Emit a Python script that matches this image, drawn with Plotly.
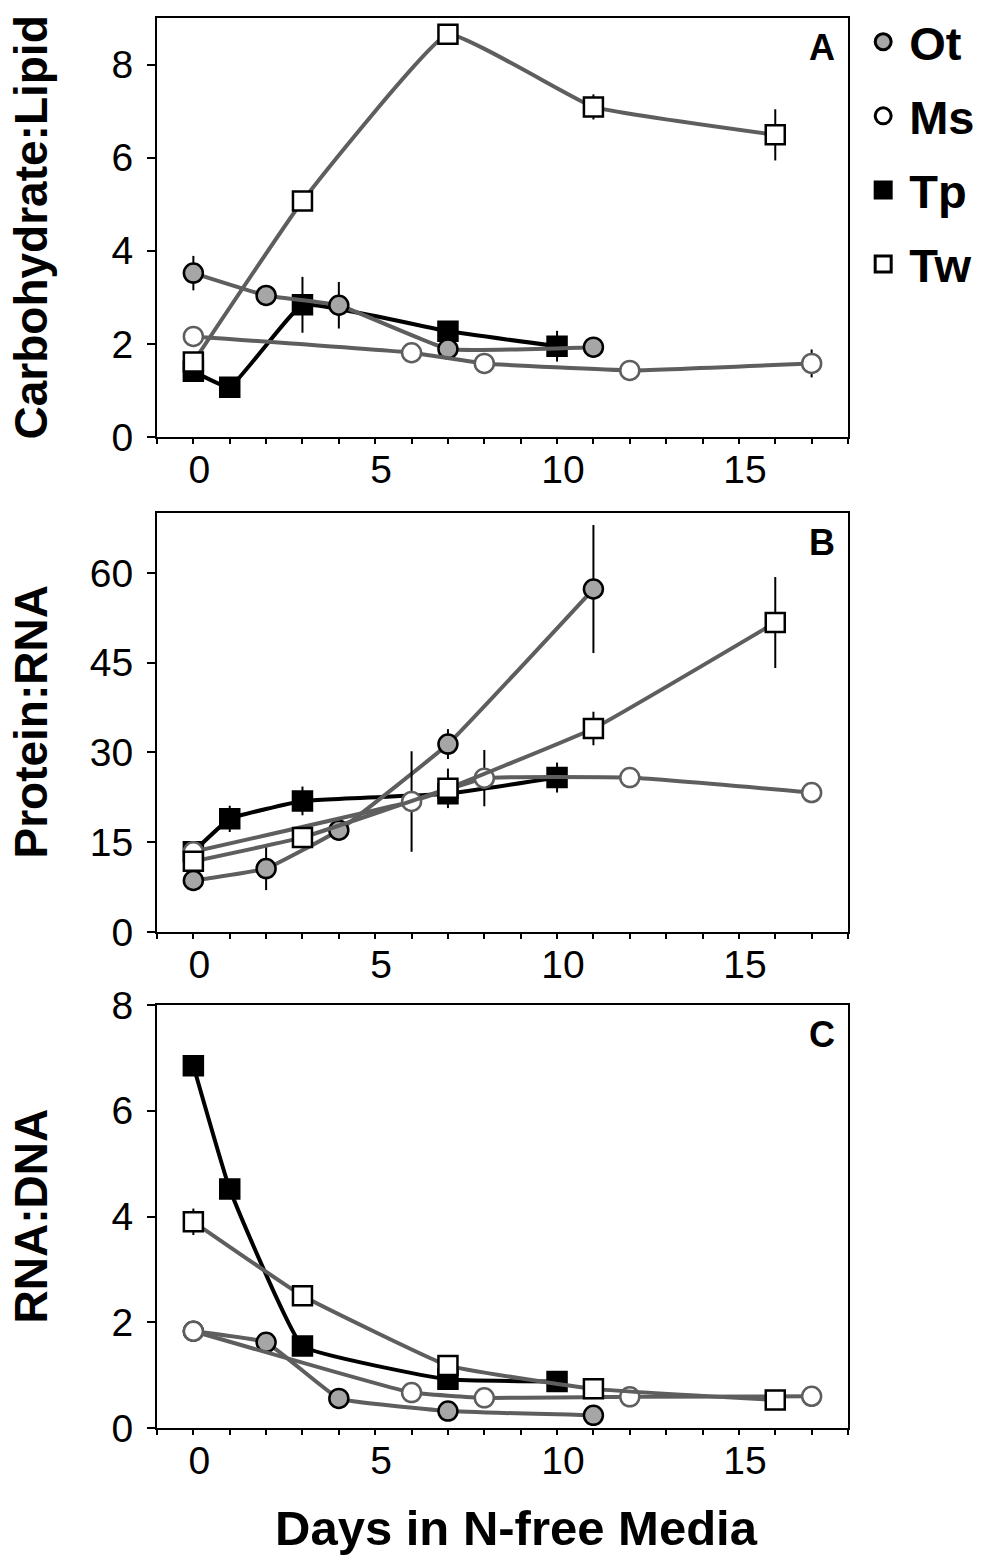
import plotly.graph_objects as go

# sampling days for each strain
days_ot = [0, 2, 4, 7, 11]
days_ms = [0, 6, 8, 12, 17]
days_tp = [0, 1, 3, 7, 10]
days_tw = [0, 3, 7, 11, 16]

# panel A: Carbohydrate:Lipid
ot_a = [3.52, 3.04, 2.83, 1.89, 1.93]
ot_a_err = [0.37, 0.1, 0.5, 0.12, 0.1]
ms_a = [2.16, 1.81, 1.58, 1.43, 1.58]
ms_a_err = [0.1, 0.05, 0.05, 0.05, 0.3]
tp_a = [1.41, 1.07, 2.84, 2.27, 1.95]
tp_a_err = [0.1, 0.05, 0.6, 0.12, 0.33]
tw_a = [1.61, 5.07, 8.65, 7.09, 6.49]
tw_a_err = [0.1, 0.12, 0.05, 0.27, 0.55]

# panel B: Protein:RNA
ot_b = [8.6, 10.6, 17.0, 31.4, 57.3]
ot_b_err = [1.0, 3.6, 1.0, 2.5, 10.7]
ms_b = [13.4, 21.8, 25.7, 25.8, 23.3]
ms_b_err = [0.8, 8.4, 4.7, 0.8, 0.8]
tp_b = [13.4, 18.9, 21.9, 23.1, 25.8]
tp_b_err = [0.8, 2.2, 2.4, 1.5, 2.5]
tw_b = [11.8, 15.8, 24.0, 34.0, 51.7]
tw_b_err = [1.0, 0.8, 3.3, 2.8, 7.6]

# panel C: RNA:DNA
ot_c = [1.83, 1.62, 0.56, 0.32, 0.24]
ot_c_err = [0.05, 0.08, 0.05, 0.04, 0.03]
ms_c = [1.83, 0.67, 0.57, 0.59, 0.60]
ms_c_err = [0.08, 0.05, 0.04, 0.04, 0.05]
tp_c = [6.85, 4.52, 1.55, 0.92, 0.88]
tp_c_err = [0.1, 0.08, 0.05, 0.05, 0.05]
tw_c = [3.90, 2.50, 1.18, 0.74, 0.53]
tw_c_err = [0.25, 0.05, 0.05, 0.05, 0.05]

names = ["Ot", "Ms", "Tp", "Tw"]
panel_titles = ["Carbohydrate:Lipid", "Protein:RNA", "RNA:DNA"]
panel_letters = ["A", "B", "C"]

GRAY = "#5e5e5e"
FONT = "Liberation Sans, Arial"
styles = {
    "Ot": dict(symbol="circle", fill="#a6a6a6", edge="black", line=GRAY),
    "Ms": dict(symbol="circle", fill="white", edge=GRAY, line=GRAY),
    "Tp": dict(symbol="square", fill="black", edge="black", line="black"),
    "Tw": dict(symbol="square", fill="white", edge="black", line=GRAY),
}

panels = [
    {"Ot": (days_ot, ot_a, ot_a_err), "Ms": (days_ms, ms_a, ms_a_err),
     "Tp": (days_tp, tp_a, tp_a_err), "Tw": (days_tw, tw_a, tw_a_err)},
    {"Ot": (days_ot, ot_b, ot_b_err), "Ms": (days_ms, ms_b, ms_b_err),
     "Tp": (days_tp, tp_b, tp_b_err), "Tw": (days_tw, tw_b, tw_b_err)},
    {"Ot": (days_ot, ot_c, ot_c_err), "Ms": (days_ms, ms_c, ms_c_err),
     "Tp": (days_tp, tp_c, tp_c_err), "Tw": (days_tw, tw_c, tw_c_err)},
]

fig = go.Figure()

# Tw is drawn last so its squares sit on top, as in the original
draw_order = ["Tp", "Ot", "Ms", "Tw"]
for i, panel in enumerate(panels):
    sfx = "" if i == 0 else str(i + 1)
    for name in draw_order:
        x, y, err = panel[name]
        st = styles[name]
        fig.add_trace(go.Scatter(
            x=x, y=y, mode="lines+markers",
            xaxis="x" + sfx, yaxis="y" + sfx,
            line=dict(color=st["line"], width=4, shape="spline", smoothing=0.3),
            marker=dict(symbol=st["symbol"], size=19, color=st["fill"],
                        line=dict(color=st["edge"], width=2.5)),
            error_y=dict(type="data", array=err, color="black", thickness=2, width=0),
            showlegend=False,
        ))

# legend-only entries
for name in names:
    st = styles[name]
    fig.add_trace(go.Scatter(
        x=[None], y=[None], mode="markers", name=name, legendgroup=name,
        marker=dict(symbol=st["symbol"], size=24, color=st["fill"],
                    line=dict(color="black", width=3)),
    ))

W, H = 983, 1566
x_dom = [157 / W, 848 / W]
y_doms = [
    [1 - 437 / H, 1 - 18 / H],
    [1 - 932 / H, 1 - 513 / H],
    [1 - 1428 / H, 1 - 1005 / H],
]
y_ranges = [[0, 9], [0, 70], [0, 8]]
y_dticks = [2, 15, 2]

axis_common = dict(
    showline=True, linecolor="black", linewidth=2, mirror=True,
    ticks="outside", tickcolor="black", tickwidth=2,
    showgrid=False, zeroline=False, automargin=False,
    tickfont=dict(family=FONT, size=39, color="black"),
)

layout = dict(
    width=W, height=H,
    margin=dict(l=0, r=0, t=0, b=0),
    plot_bgcolor="white", paper_bgcolor="white",
    font=dict(family=FONT, color="black"),
    legend=dict(x=0.872, y=0.997, xanchor="left", yanchor="top",
                font=dict(size=47, family=FONT, color="black", weight="bold"),
                tracegroupgap=10, itemsizing="trace", itemwidth=42,
                bgcolor="rgba(0,0,0,0)"),
)

annotations = []
for i in range(3):
    sfx = "" if i == 0 else str(i + 1)
    layout["xaxis" + sfx] = dict(
        axis_common, domain=x_dom, range=[-1, 18], dtick=5, tick0=0,
        anchor="y" + sfx, ticklen=5, ticklabelstandoff=-8, ticklabelshift=6,
        minor=dict(dtick=1, ticks="outside", ticklen=5, tickwidth=2, tickcolor="black"),
    )
    layout["yaxis" + sfx] = dict(
        axis_common, domain=y_doms[i], range=y_ranges[i], dtick=y_dticks[i], tick0=0,
        anchor="x" + sfx, ticklen=8, ticklabelstandoff=6,
    )
    annotations.append(dict(
        text=panel_titles[i], textangle=-90, xref="paper", yref="y" + sfx + " domain",
        x=30 / W, y=0.5, showarrow=False, xanchor="center", yanchor="middle",
        font=dict(size=46, weight="bold", family=FONT),
    ))
    annotations.append(dict(
        text=panel_letters[i], xref="x" + sfx + " domain", yref="y" + sfx + " domain",
        x=0.962, y=0.93, showarrow=False, xanchor="center", yanchor="middle",
        font=dict(size=36, weight="bold", family=FONT),
    ))

annotations.append(dict(
    text="Days in N-free Media", xref="paper", yref="paper",
    x=516 / W, y=1 - 1528 / H, showarrow=False, xanchor="center", yanchor="middle",
    font=dict(size=49, weight="bold", family=FONT),
))
layout["annotations"] = annotations

fig.update_layout(layout)

fig.write_html("out.html", config={"displayModeBar": False},
               post_script="document.body.style.margin='0px';")
